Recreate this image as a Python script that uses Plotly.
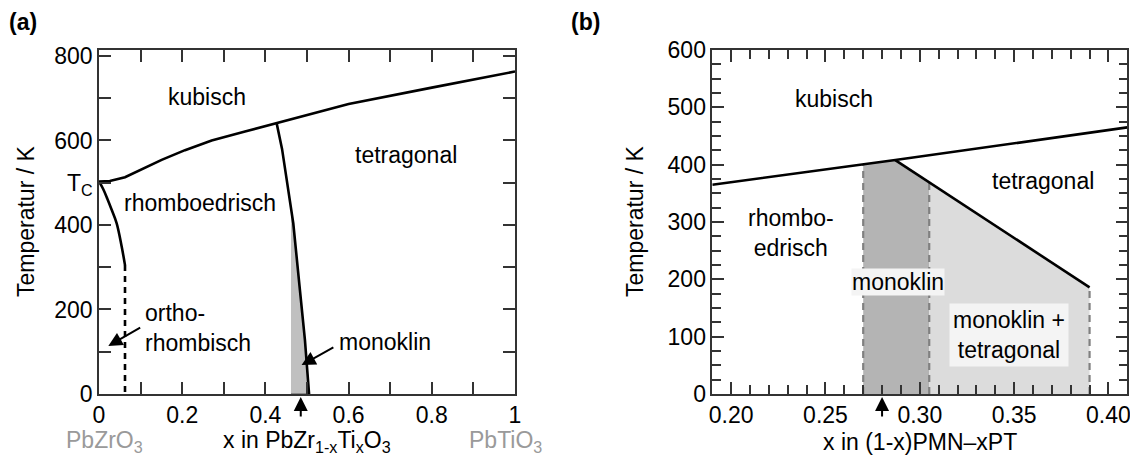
import numpy as np
import plotly.graph_objects as go

# ---------------- data: panel (a) PZT ----------------
a_cub_x = [0, 0.026, 0.0625, 0.0946, 0.1506, 0.2067, 0.2708, 0.351, 0.427, 0.6, 0.8, 1.0]
a_cub_T = [503, 504, 513, 528, 554, 577, 600, 621, 641, 686, 725, 763]
a_rh_x = [0, 0.01, 0.02, 0.03, 0.0425, 0.0545, 0.0625]
a_rh_T = [503, 485, 462, 437, 404, 349, 305]
a_dash_x = [0.0625, 0.0625]
a_dash_T = [305, 0]
a_mpb_x = [0.427, 0.433, 0.440, 0.450, 0.459, 0.4615, 0.467, 0.483, 0.495, 0.505]
a_mpb_T = [641, 615, 580, 515, 460, 440, 404, 246, 128, 0]
a_mono_left = 0.4615
a_arrow_x = 0.485
a_xticks = [0, 0.2, 0.4, 0.6, 0.8, 1.0]
a_xticktext = ["0", "0.2", "0.4", "0.6", "0.8", "1"]
a_yticks = [0, 200, 400, 500, 600, 800]
a_yticktext = ["0", "200", "400", "T<sub>C</sub>", "600", "800"]

# ---------------- data: panel (b) PMN-PT ----------------
b_cub_x = [0.19, 0.287, 0.41]
b_cub_T = [365, 408, 465]
b_tet_x = [0.287, 0.39]
b_tet_T = [408, 186]
b_mono_x = [0.27, 0.305]
b_mix_x = [0.305, 0.39]
b_arrow_x = 0.28
b_xticks = [0.20, 0.25, 0.30, 0.35, 0.40]
b_yticks = [0, 100, 200, 300, 400, 500, 600]

FONT = "Liberation Sans, Arial, sans-serif"
FS = 23
AX = "#333333"

# the page places the figure 8 px from the top-left corner of the window
OFF = 8
W, H = 1138 - OFF, 456 - OFF

def pap_y(px):
    return (456 - px) / H

def pap_x(px):
    return (px - OFF) / W

def T_on(xv, xs, ts):
    return float(np.interp(xv, xs, ts))

fig = go.Figure()

# ----- panel (a) -----
sel = [(x, t) for x, t in zip(a_mpb_x, a_mpb_T) if x >= a_mono_left]
poly_x = [a_mono_left] + [p[0] for p in sel] + [a_mono_left]
poly_T = [T_on(a_mono_left, a_mpb_x, a_mpb_T)] + [p[1] for p in sel] + [0]
fig.add_trace(go.Scatter(x=poly_x, y=poly_T, fill="toself", fillcolor="#c0c0c0",
                         line=dict(width=1, color="#555555"), mode="lines",
                         xaxis="x", yaxis="y", hoverinfo="skip"))
fig.add_trace(go.Scatter(x=a_cub_x, y=a_cub_T, mode="lines", line=dict(color="black", width=2.6),
                         xaxis="x", yaxis="y"))
fig.add_trace(go.Scatter(x=a_rh_x, y=a_rh_T, mode="lines", line=dict(color="black", width=2.6, shape="spline"),
                         xaxis="x", yaxis="y"))
fig.add_trace(go.Scatter(x=a_dash_x, y=a_dash_T, mode="lines",
                         line=dict(color="black", width=2.6, dash="6px,5px"),
                         xaxis="x", yaxis="y"))
fig.add_trace(go.Scatter(x=a_mpb_x, y=a_mpb_T, mode="lines", line=dict(color="black", width=2.6),
                         xaxis="x", yaxis="y"))

# ----- panel (b) -----
m_top = [T_on(b_mono_x[0], b_cub_x, b_cub_T), b_cub_T[1], T_on(b_mono_x[1], b_tet_x, b_tet_T)]
fig.add_trace(go.Scatter(x=[b_mono_x[0], b_mono_x[0], b_cub_x[1], b_mono_x[1], b_mono_x[1]],
                         y=[0, m_top[0], m_top[1], m_top[2], 0],
                         fill="toself", fillcolor="#b4b4b4", line=dict(width=0), mode="lines",
                         xaxis="x2", yaxis="y2", hoverinfo="skip"))
fig.add_trace(go.Scatter(x=[b_mix_x[0], b_mix_x[0], b_mix_x[1], b_mix_x[1]],
                         y=[0, T_on(b_mix_x[0], b_tet_x, b_tet_T), T_on(b_mix_x[1], b_tet_x, b_tet_T), 0],
                         fill="toself", fillcolor="#dcdcdc", line=dict(width=0), mode="lines",
                         xaxis="x2", yaxis="y2", hoverinfo="skip"))
for xv, top in [(b_mono_x[0], m_top[0]), (b_mono_x[1], m_top[2]),
                (b_mix_x[1], T_on(b_mix_x[1], b_tet_x, b_tet_T))]:
    fig.add_trace(go.Scatter(x=[xv, xv], y=[0, top], mode="lines",
                             line=dict(color="#808080", width=2.2, dash="7px,5px"),
                             xaxis="x2", yaxis="y2"))
fig.add_trace(go.Scatter(x=b_cub_x, y=b_cub_T, mode="lines", line=dict(color="black", width=2.6),
                         xaxis="x2", yaxis="y2"))
fig.add_trace(go.Scatter(x=b_tet_x, y=b_tet_T, mode="lines", line=dict(color="black", width=2.6),
                         xaxis="x2", yaxis="y2"))

axis_common = dict(showline=True, linecolor=AX, linewidth=1.5, mirror="ticks", ticks="inside",
                   ticklen=12, tickwidth=1.5, tickcolor=AX, showgrid=False, zeroline=False,
                   automargin=False,
                   tickfont=dict(family=FONT, size=FS, color="black"))

yd = [pap_y(394), pap_y(50)]
fig.update_layout(
    width=W, height=H, margin=dict(l=0, r=0, t=0, b=0, pad=0, autoexpand=False),
    plot_bgcolor="white", paper_bgcolor="white", showlegend=False,
    font=dict(family=FONT, size=FS, color="black"),
    xaxis=dict(domain=[pap_x(99), pap_x(515)], range=[0, 1], tickmode="array",
               tickvals=a_xticks, ticktext=a_xticktext, anchor="y",
               minor=dict(dtick=0.1, tick0=0, ticks="inside", ticklen=12, tickwidth=1.5, tickcolor=AX),
               **axis_common),
    yaxis=dict(domain=yd, range=[0, 814], tickmode="array", tickvals=a_yticks,
               ticktext=a_yticktext, anchor="x",
               minor=dict(dtick=100, tick0=0, ticks="inside", ticklen=12, tickwidth=1.5, tickcolor=AX),
               **axis_common),
    xaxis2=dict(domain=[pap_x(712.3), pap_x(1127.3)], range=[0.19, 0.41], tickmode="array",
                tickvals=b_xticks, ticktext=["%.2f" % v for v in b_xticks], anchor="y2",
                minor=dict(dtick=0.01, tick0=0.19, ticks="inside", ticklen=9, tickwidth=1.5, tickcolor=AX),
                **axis_common),
    yaxis2=dict(domain=yd, range=[0, 600], tickmode="array", tickvals=b_yticks, anchor="x2",
                minor=dict(dtick=25, tick0=0, ticks="inside", ticklen=9, tickwidth=1.5, tickcolor=AX),
                **axis_common),
)

ann = []
def txt(text, x, y, xref="x", yref="y", **kw):
    d = dict(text=text, x=x, y=y, xref=xref, yref=yref, showarrow=False,
             font=dict(family=FONT, size=kw.pop("size", FS), color=kw.pop("color", "black")))
    d.update(kw)
    ann.append(d)

# panel titles
txt("<b>(a)</b>", pap_x(7), pap_y(22), "paper", "paper", xanchor="left", yanchor="middle")
txt("<b>(b)</b>", pap_x(569), pap_y(22), "paper", "paper", xanchor="left", yanchor="middle")
# y titles
txt("Temperatur / K", pap_x(26), pap_y(222), "paper", "paper", textangle=-90, xanchor="center", yanchor="middle")
txt("Temperatur / K", pap_x(635), pap_y(222), "paper", "paper", textangle=-90, xanchor="center", yanchor="middle")
# x titles
txt("x in PbZr<sub>1-x</sub>Ti<sub>x</sub>O<sub>3</sub>", 0.5, pap_y(441), "x", "paper", yanchor="middle")
txt("x in (1-x)PMN–xPT", 0.30, pap_y(442), "x2", "paper", yanchor="middle")
txt("PbZrO<sub>3</sub>", 0.014, pap_y(441), "x", "paper", yanchor="middle", color="#9a9a9a")
txt("PbTiO<sub>3</sub>", 0.978, pap_y(441), "x", "paper", yanchor="middle", color="#9a9a9a")

# region labels (a)
txt("kubisch", 0.26, 702, "x", "y")
txt("tetragonal", 0.7375, 566, "x", "y")
txt("rhomboedrisch", 0.243, 453, "x", "y")
txt("ortho-<br>rhombisch", 0.106, 157, "x", "y", xanchor="left", align="left")
txt("monoklin", 0.573, 124, "x", "y", xanchor="left")
# region labels (b)
txt("kubisch", 0.2547, 514, "x2", "y2")
txt("tetragonal", 0.3651, 371, "x2", "y2")
txt("rhombo-<br>edrisch", 0.2316, 280, "x2", "y2")
txt("monoklin", 0.2883, 196, "x2", "y2", bgcolor="#f4f4f4", borderpad=0)
txt("monoklin +<br>tetragonal", 0.3474, 103, "x2", "y2", bgcolor="#f4f4f4", borderpad=3)

# arrows
arr = dict(showarrow=True, arrowhead=2, arrowsize=1.4, arrowwidth=2, arrowcolor="black", text="")
ann.append(dict(x=0.0224, y=113.6, ax=0.1026, ay=159, xref="x", yref="y", axref="x", ayref="y", **arr))
ann.append(dict(x=0.487, y=68.6, ax=0.567, ay=112, xref="x", yref="y", axref="x", ayref="y", **arr))
ann.append(dict(x=a_arrow_x, y=pap_y(397), ax=0, ay=21, xref="x", yref="paper", **arr))
ann.append(dict(x=b_arrow_x, y=pap_y(397), ax=0, ay=21, xref="x2", yref="paper", **arr))

fig.update_layout(annotations=ann)
fig.write_html("out.html")
